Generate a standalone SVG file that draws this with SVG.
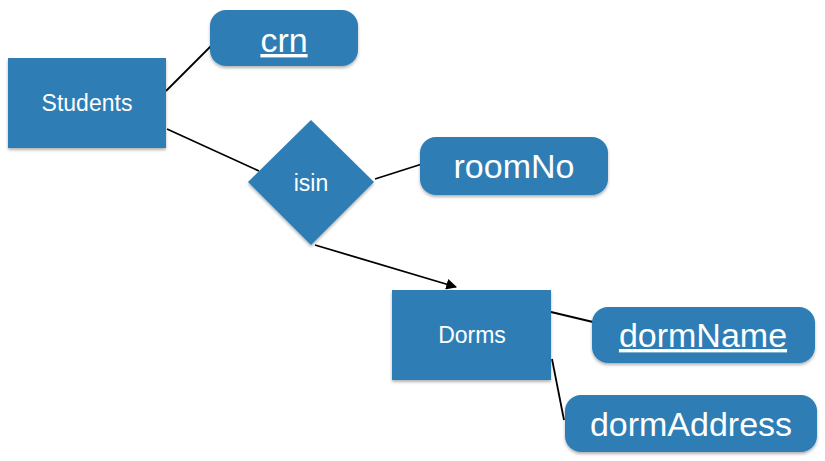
<svg xmlns="http://www.w3.org/2000/svg" width="825" height="461" viewBox="0 0 825 461">
<style>
.ent{fill:#2f7db5;filter:url(#sh)}
.lbl{fill:#ffffff;font-family:"Liberation Sans",Arial,sans-serif;text-anchor:middle}
.s{font-size:23px}
.b{font-size:34px}
.u{text-decoration:underline}
.ln{stroke:#000;stroke-width:1.8;fill:none}
</style>
<defs>
<filter id="sh" x="-10%" y="-10%" width="125%" height="130%">
<feDropShadow dx="0" dy="2" stdDeviation="1.5" flood-color="#000" flood-opacity="0.3"/>
</filter>
<marker id="ah" viewBox="0 0 10 10" refX="9" refY="5" markerWidth="6" markerHeight="6" orient="auto" markerUnits="strokeWidth">
<path d="M0,0 L10,5 L0,10 z" fill="#000"/>
</marker>
</defs>
<g id="connectors">
<line class="ln" x1="166" y1="91" x2="211" y2="46"/>
<line class="ln" x1="167" y1="129" x2="259" y2="171"/>
<line class="ln" x1="375" y1="179" x2="422" y2="164"/>
<line class="ln" x1="315" y1="245" x2="456" y2="287" marker-end="url(#ah)"/>
<line class="ln" x1="551" y1="312" x2="593" y2="322"/>
<line class="ln" x1="552" y1="359" x2="564" y2="420"/>
</g>
<g id="students">
<rect class="ent" x="8" y="58" width="158" height="90"/>
<text class="lbl s" x="87" y="111">Students</text>
</g>
<g id="crn">
<rect class="ent" x="210" y="10" width="148" height="56" rx="16"/>
<text class="lbl b u" x="284" y="52">crn</text>
</g>
<g id="isin">
<polygon class="ent" points="311,120 374,182 311,245 248,182"/>
<text class="lbl s" x="311" y="191">isin</text>
</g>
<g id="roomNo">
<rect class="ent" x="420" y="137" width="188" height="58" rx="16"/>
<text class="lbl b" x="514" y="178">roomNo</text>
</g>
<g id="dorms">
<rect class="ent" x="392" y="290" width="159" height="90"/>
<text class="lbl s" x="472" y="343">Dorms</text>
</g>
<g id="dormName">
<rect class="ent" x="592" y="307" width="223" height="56" rx="16"/>
<text class="lbl b u" x="703" y="347">dormName</text>
</g>
<g id="dormAddress">
<rect class="ent" x="565" y="395" width="252" height="57" rx="16"/>
<text class="lbl b" x="691" y="436">dormAddress</text>
</g>
</svg>
